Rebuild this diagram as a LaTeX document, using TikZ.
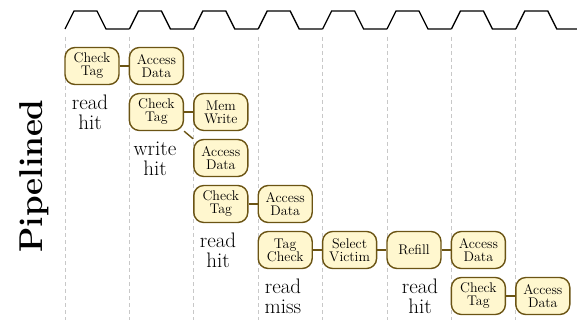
\documentclass[tikz,border=0pt]{standalone}
\definecolor{stagefill}{HTML}{FFF7CF}
\definecolor{stageline}{HTML}{6B5414}
\definecolor{gridgray}{HTML}{C8C8C8}
\begin{document}
\begin{tikzpicture}
    [x=1pt,y=-1pt,
     stage/.style={draw=stageline, fill=stagefill, line width=1.4pt, rounded corners=10pt,
       minimum width=54pt, minimum height=37pt, inner sep=0pt, align=center,
       font=\fontsize{14}{13}\selectfont},
     link/.style={draw=stageline, line width=1.4pt},
     caption/.style={align=center, font=\fontsize{21}{20}\selectfont}]
    \useasboundingbox (0,0) rectangle (577,320);
    % clock and cycle boundaries
    \foreach \c in {0,...,7} {
      \draw[gridgray, line width=0.8pt, dash pattern=on 4pt off 3pt] (65+64.4*\c,37) -- (65+64.4*\c,320);
      \draw[black, line width=1.3pt] (65+64.4*\c,29) -- (74+64.4*\c,11) -- (97+64.4*\c,11)
        -- (106+64.4*\c,29) -- (129.4+64.4*\c,29);
    }
    \node[rotate=90, font=\fontsize{33}{36}\selectfont\bfseries] (title) at (34,176){Pipelined};
    % read hit
    \node[stage] (ct1) at (92,66){Check\\Tag};
    \node[stage] (ad1) at (156.4,66){Access\\Data};
    \node[caption] (l1) at (90,112){read\\hit};
    % write hit
    \node[stage] (ct2) at (156.4,112){Check\\Tag};
    \node[stage] (mw2) at (220.8,112){Mem\\Write};
    \node[stage] (ad2) at (220.8,158){Access\\Data};
    \node[caption] (l2) at (155,159){write\\hit};
    % read hit
    \node[stage] (ct3) at (220.8,204){Check\\Tag};
    \node[stage] (ad3) at (285.2,204){Access\\Data};
    \node[caption] (l3) at (218,250){read\\hit};
    % read miss
    \node[stage] (tc4) at (285.2,250){Tag\\Check};
    \node[stage] (sv4) at (349.6,250){Select\\Victim};
    \node[stage] (rf4) at (414,250){Refill};
    \node[stage] (ad4) at (478.4,250){Access\\Data};
    \node[caption] (l4) at (283,296){read\\miss};
    % read hit
    \node[stage] (ct5) at (478.4,296){Check\\Tag};
    \node[stage] (ad5) at (542.8,296){Access\\Data};
    \node[caption] (l5) at (420,296){read\\hit};
    \draw[link] (ct1) to (ad1);
    \draw[link] (ct2) to (mw2);
    \draw[link] (ct2.south east) to (ad2.north west);
    \draw[link] (ct3) to (ad3);
    \draw[link] (tc4) to (sv4);
    \draw[link] (sv4) to (rf4);
    \draw[link] (rf4) to (ad4);
    \draw[link] (ct5) to (ad5);
\end{tikzpicture}
\end{document}
